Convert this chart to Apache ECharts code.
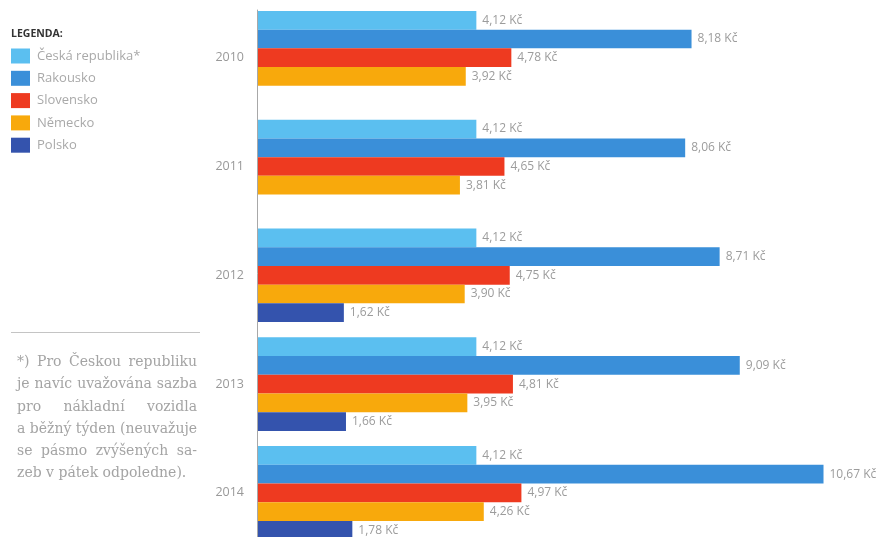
<!DOCTYPE html>
<html>
<head>
<meta charset="utf-8">
<script src="https://cdn.jsdelivr.net/npm/echarts@6/dist/echarts.min.js"></script>
<style>
    body { margin: 0; background: #fff; }
    #wrap { position: relative; width: 880px; height: 537px; overflow: hidden; }
    #chart { position: absolute; left: 0; top: 0; width: 880px; height: 537px; }
    #note { position: absolute; left: 17px; top: 350px; width: 180px;
        font-family: "DejaVu Serif", serif; font-size: 14px; color: #a4a4a4; }
    #note div { height: 22.3px; line-height: 22.3px; white-space: nowrap;
        text-align: justify; text-align-last: justify; }
    #note div.last { text-align-last: left; }
</style>
</head>
<body>
<div id="wrap">
    <div id="chart"></div>
    <div id="note">
        <div>*) Pro Českou republiku</div>
        <div>je navíc uvažována sazba</div>
        <div>pro nákladní vozidla</div>
        <div>a běžný týden (neuvažuje</div>
        <div>se pásmo zvýšených sa-</div>
        <div class="last">zeb v pátek odpoledne).</div>
    </div>
</div>
<script>
// data
var years = ['2010', '2011', '2012', '2013', '2014'];
var countries = ['Česká republika*', 'Rakousko', 'Slovensko', 'Německo', 'Polsko'];
var cesko = [4.12, 4.12, 4.12, 4.12, 4.12];
var rakousko = [8.18, 8.06, 8.71, 9.09, 10.67];
var slovensko = [4.78, 4.65, 4.75, 4.81, 4.97];
var nemecko = [3.92, 3.81, 3.90, 3.95, 4.26];
var polsko = [null, null, 1.62, 1.66, 1.78];

var colors = ['#5bbff0', '#3a8fd9', '#ee3a20', '#f8a90c', '#3453ad'];
var values = [cesko, rakousko, slovensko, nemecko, polsko];

var chart = echarts.init(document.getElementById('chart'));

var series = countries.map(function (name, i) {
    return {
        name: name,
        type: 'bar',
        xAxisIndex: 0,
        yAxisIndex: 0,
        data: values[i],
        barGap: 0,
        barCategoryGap: '14%',
        itemStyle: { color: colors[i] },
        label: {
            show: true,
            position: 'right',
            distance: 6,
            color: '#9c9c9c',
            fontFamily: 'Open Sans',
            fontSize: 12,
            formatter: function (p) {
                return p.value.toFixed(2).replace('.', ',') + ' Kč';
            }
        }
    };
});

var option = {
    animation: false,
    textStyle: { fontFamily: 'Open Sans' },
    title: {
        text: 'LEGENDA:',
        left: 6,
        top: 24,
        textStyle: { fontSize: 10.5, fontWeight: 'bold', color: '#333', fontFamily: 'Open Sans' }
    },
    legend: {
        orient: 'vertical',
        left: 11,
        top: 48.5,
        padding: 0,
        icon: 'rect',
        itemWidth: 19,
        itemHeight: 15,
        itemGap: 7.3,
        data: countries,
        textStyle: { color: '#a9a9a9', fontSize: 13, fontFamily: 'Open Sans', padding: [0, 0, 0, 2] },
        selectedMode: false
    },
    grid: [
        { left: 258, top: 3.3, width: 636, height: 544, outerBoundsMode: 'none' },
        { left: 257, top: 10, width: 10, height: 540, outerBoundsMode: 'none' }
    ],
    xAxis: [
        { type: 'value', gridIndex: 0, min: 0, max: 12, show: false, splitLine: { show: false } },
        { type: 'value', gridIndex: 1, show: false }
    ],
    yAxis: [
        {
            type: 'category',
            gridIndex: 0,
            inverse: true,
            data: years,
            axisLine: { show: false },
            axisTick: { show: false },
            axisLabel: { color: '#999', fontSize: 12.5, margin: 14, fontFamily: 'Open Sans' }
        },
        {
            type: 'value',
            gridIndex: 1,
            min: 0,
            max: 1,
            axisLine: { show: true, lineStyle: { color: '#a8a8a8', width: 1 } },
            axisTick: { show: false },
            axisLabel: { show: false },
            splitLine: { show: false }
        }
    ],
    graphic: [
        {
            type: 'line',
            shape: { x1: 11, y1: 332.5, x2: 200, y2: 332.5 },
            style: { stroke: '#c4c4c4', lineWidth: 1 }
        }
    ],
    series: series
};

chart.setOption(option);
</script>
</body>
</html>
